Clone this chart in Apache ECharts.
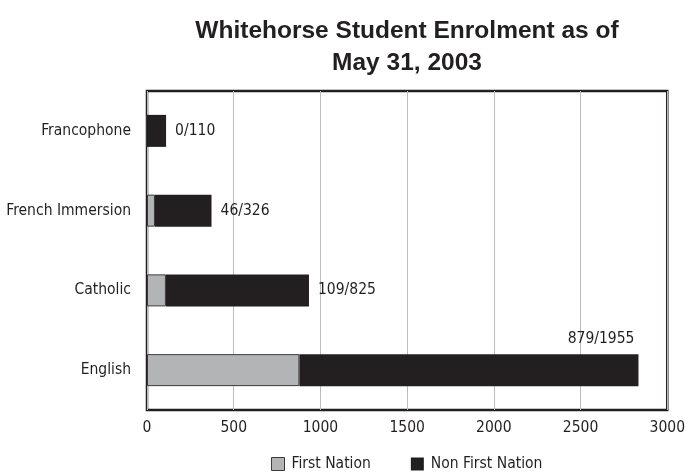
<!DOCTYPE html>
<html>
<head>
<meta charset="utf-8">
<style>
  html, body { margin: 0; padding: 0; background: #ffffff; }
  #chart { width: 688px; height: 473px; }
</style>
<script src="https://cdn.jsdelivr.net/npm/echarts@6/dist/echarts.min.js"></script>
</head>
<body>
<div id="chart"></div>
<script>
// School systems, listed bottom to top
const categories = ['English', 'Catholic', 'French Immersion', 'Francophone'];
// Enrolment counts per system
const firstNation = [879, 109, 46, 0];
const nonFirstNation = [1955, 825, 326, 110];
// Horizontal axis ticks
const xTicks = [0, 500, 1000, 1500, 2000, 2500, 3000];

const INK = '#231f20';
const GREY = '#b3b4b6';
const NARROW = "'Liberation Sans Narrow', 'DejaVu Sans Condensed', 'Arial Narrow', sans-serif";
const FS = 15.5;

const chart = echarts.init(document.getElementById('chart'), null, { renderer: 'canvas' });

const labelled = nonFirstNation.map((v, i) => {
  const item = { value: v };
  if (i === 0) {
    // Longest bar: its label sits above the bar's right end
    item.label = {
      position: ['100%', 0],
      align: 'right',
      verticalAlign: 'bottom',
      offset: [-4, -7]
    };
  }
  return item;
});

chart.setOption({
  animation: false,
  backgroundColor: '#ffffff',
  title: {
    text: 'Whitehorse Student Enrolment as of\nMay 31, 2003',
    left: 402,
    textAlign: 'center',
    top: 10,
    textStyle: {
      fontFamily: "'Liberation Sans', Arial, sans-serif",
      fontWeight: 'bold',
      fontSize: 24.5,
      lineHeight: 32,
      color: INK
    }
  },
  legend: {
    left: 266,
    top: 451,
    itemWidth: 13,
    itemHeight: 13,
    itemGap: 40,
    icon: 'rect',
    textStyle: { fontFamily: NARROW, fontSize: FS, color: INK, padding: [0, 0, 0, 2] },
    data: [
      { name: 'First Nation', itemStyle: { color: GREY, borderColor: '#3a3a3a', borderWidth: 1 } },
      { name: 'Non First Nation', itemStyle: { color: INK } }
    ]
  },
  grid: {
    left: 147,
    right: 14,
    top: 91,
    bottom: 63,
    show: true,
    borderColor: INK,
    borderWidth: 2.5,
    containLabel: false
  },
  xAxis: {
    type: 'value',
    min: xTicks[0],
    max: xTicks[xTicks.length - 1],
    interval: 500,
    axisLine: { show: false },
    axisTick: { show: false },
    splitLine: { show: true, lineStyle: { color: '#bcbcbc', width: 1 } },
    axisLabel: {
      fontFamily: NARROW,
      fontSize: FS,
      color: INK,
      margin: 10,
      formatter: v => String(v)
    }
  },
  yAxis: {
    type: 'category',
    data: categories,
    axisLine: { show: false },
    axisTick: { show: false },
    axisLabel: {
      fontFamily: NARROW,
      fontSize: FS,
      color: INK,
      margin: 16
    }
  },
  series: [
    {
      name: 'First Nation',
      type: 'bar',
      stack: 'enrolment',
      barWidth: 32,
      data: firstNation,
      itemStyle: { color: GREY, borderColor: '#3a3a3a', borderWidth: 1 }
    },
    {
      name: 'Non First Nation',
      type: 'bar',
      stack: 'enrolment',
      barWidth: 32,
      data: labelled,
      itemStyle: { color: INK },
      label: {
        show: true,
        position: 'right',
        distance: 9,
        fontFamily: NARROW,
        fontSize: FS,
        color: INK,
        formatter: p => firstNation[p.dataIndex] + '/' + nonFirstNation[p.dataIndex]
      }
    }
  ]
});
</script>
</body>
</html>
